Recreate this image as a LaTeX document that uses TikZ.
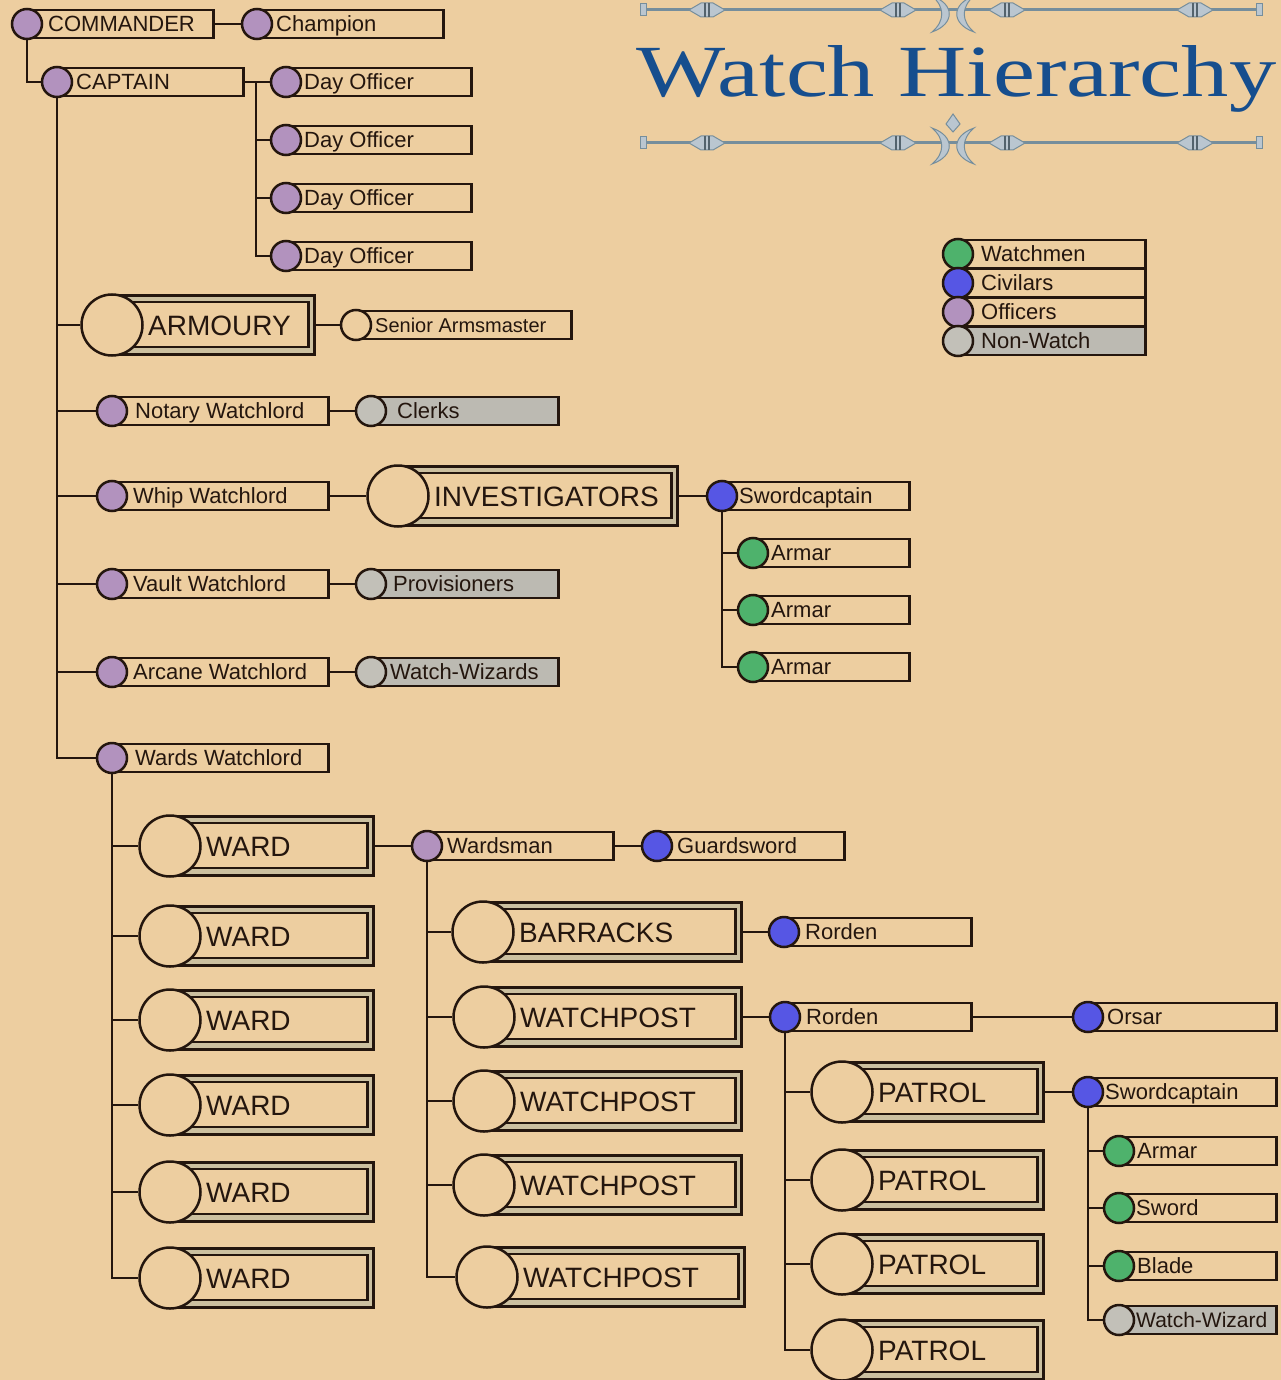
\documentclass[tikz,border=0pt]{standalone}
\usepackage{fontspec}
\usepackage{graphicx}
\setmainfont{Liberation Sans}
\newfontfamily\titlefont{Liberation Serif}
\definecolor{paper}{RGB}{237,206,160}
\definecolor{ink}{RGB}{36,22,14}
\definecolor{cwatch}{RGB}{78,178,108}
\definecolor{cciv}{RGB}{86,86,228}
\definecolor{coff}{RGB}{178,146,190}
\definecolor{cnon}{RGB}{194,192,184}
\definecolor{gbox}{RGB}{188,186,178}
\definecolor{tblue}{RGB}{22,78,142}
\definecolor{orn}{RGB}{118,142,156}
\definecolor{ornf}{RGB}{186,198,208}
\definecolor{gapc}{RGB}{204,192,160}
\tikzset{
  sbox/.style={rectangle, draw=ink, line width=2.5pt, minimum height=28pt, inner sep=0pt},
  scirc/.style={circle, draw=ink, line width=2.5pt, minimum size=30pt, inner sep=0pt},
  stext/.style={anchor=base west, inner sep=0pt, font=\fontsize{22}{22}\selectfont, text=ink},
  bouter/.style={rectangle, draw=ink, line width=2.5pt, minimum height=59pt, inner sep=0pt, fill=gapc},
  binner/.style={rectangle, draw=ink, line width=2.5pt, minimum height=45pt, inner sep=0pt, fill=paper},
  bcirc/.style={circle, draw=ink, line width=2.5pt, minimum size=61pt, inner sep=0pt, fill=paper},
  btext/.style={anchor=base west, inner sep=0pt, font=\fontsize{28}{28}\selectfont, text=ink},
  link/.style={draw=ink, line width=2.4pt, line join=miter},
  ornline/.style={draw=orn, line width=3pt},
  ornpiece/.style={fill=ornf, draw=orn, line width=1pt},
}
% small entry: [text offset] name, x, y, right, circle fill, box fill, text
\newcommand\sentry[8][19]{%
  \pgfmathsetmacro\boxw{#5-#3}%
  \node[sbox, fill=#7, minimum width=\boxw pt, anchor=west] (#2) at (#3,#4) {};
  \node[scirc, fill=#6] (#2c) at (#3,#4) {};
  \node[stext] (#2t) at (#3+#1,#4+7.8) {#8};
}
% big entry: name, x, y, right, text
\newcommand\bentry[5]{%
  \pgfmathsetmacro\boxw{#4-#2}%
  \pgfmathsetmacro\boxiw{#4-#2-6}%
  \node[bouter, minimum width=\boxw pt, anchor=west] (#1o) at (#2,#3) {};
  \node[binner, minimum width=\boxiw pt, anchor=west] (#1) at (#2,#3-0.5) {};
  \node[bcirc] (#1c) at (#2,#3) {};
  \node[btext] (#1t) at (#2+36,#3+10) {#5};
}
\newcommand\ornament[2]{%
  \path[ornpiece] (#1-18,#2) -- (#1-6,#2-7) -- (#1+6,#2-7) -- (#1+18,#2) -- (#1+6,#2+7) -- (#1-6,#2+7) -- cycle;
  \draw[orn!70!black, line width=1.6pt] (#1-2,#2-7) -- (#1-2,#2+7) (#1+2,#2-7) -- (#1+2,#2+7);
}
\newcommand\crescents[2]{%
  \path[ornpiece] (#1-21,#2-18) .. controls (#1+2,#2-10) and (#1+2,#2+10) .. (#1-21,#2+18)
     .. controls (#1-8,#2+7) and (#1-8,#2-7) .. (#1-21,#2-18) -- cycle;
  \path[ornpiece] (#1+21,#2-18) .. controls (#1-2,#2-10) and (#1-2,#2+10) .. (#1+21,#2+18)
     .. controls (#1+8,#2+7) and (#1+8,#2-7) .. (#1+21,#2-18) -- cycle;
}
\newcommand\ornrule[1]{%
  \draw[ornline] (643,#1) -- (1259,#1);
  \path[ornpiece] (640,#1-6) rectangle (646,#1+6);
  \path[ornpiece] (1256,#1-6) rectangle (1262,#1+6);
  \ornament{707}{#1}\ornament{898}{#1}\ornament{1007}{#1}\ornament{1195}{#1}
}
\begin{document}
\begin{tikzpicture}[x=1pt,y=-1pt]
\useasboundingbox (0,0) rectangle (1281,1380);
\fill[paper] (0,0) rectangle (1281,1380);

% title
\ornrule{10}
\crescents{953}{14}
\ornrule{143}
\path[ornpiece] (953,114) -- (960,124) -- (953,132) -- (946,124) -- cycle;
\crescents{953}{146}
\node[anchor=base west, inner sep=0pt, text=tblue] (title) at (636,97)
  {\resizebox{640pt}{51pt}{\titlefont Watch Hierarchy}};

% legend
\sentry[23]{lgA}{958}{254}{1144}{cwatch}{paper}{Watchmen}
\sentry[23]{lgB}{958}{283}{1144}{cciv}{paper}{Civilars}
\sentry[23]{lgC}{958}{312}{1144}{coff}{paper}{Officers}
\sentry[23]{lgD}{958}{341}{1144}{cnon}{gbox}{Non-Watch}

% top of hierarchy
\sentry[21]{cmd}{27}{24}{212}{coff}{paper}{COMMANDER}
\sentry{champ}{257}{24}{442}{coff}{paper}{Champion}
\sentry{cap}{57}{82}{242}{coff}{paper}{CAPTAIN}
\sentry[18]{dA}{286}{82}{470}{coff}{paper}{Day Officer}
\sentry[18]{dB}{286}{140}{470}{coff}{paper}{Day Officer}
\sentry[18]{dC}{286}{198}{470}{coff}{paper}{Day Officer}
\sentry[18]{dD}{286}{256}{470}{coff}{paper}{Day Officer}

\bentry{arm}{112}{325}{313}{ARMOURY}
\sentry{sam}{356}{325}{570}{paper}{paper}{\fontsize{20}{20}\selectfont Senior Armsmaster}
\sentry[23]{not}{112}{411}{327}{coff}{paper}{Notary Watchlord}
\sentry[26]{clk}{371}{411}{557}{cnon}{gbox}{Clerks}
\sentry[21]{whip}{112}{496}{327}{coff}{paper}{Whip Watchlord}
\bentry{inv}{398}{496}{676}{INVESTIGATORS}
\sentry[17]{scA}{722}{496}{908}{cciv}{paper}{Swordcaptain}
\sentry[18]{arA}{753}{553}{908}{cwatch}{paper}{Armar}
\sentry[18]{arB}{753}{610}{908}{cwatch}{paper}{Armar}
\sentry[18]{arC}{753}{667}{908}{cwatch}{paper}{Armar}
\sentry[21]{vault}{112}{584}{327}{coff}{paper}{Vault Watchlord}
\sentry[22]{prov}{371}{584}{557}{cnon}{gbox}{Provisioners}
\sentry[21]{arc}{112}{672}{327}{coff}{paper}{Arcane Watchlord}
\sentry[19]{wwiz}{371}{672}{557}{cnon}{gbox}{Watch-Wizards}
\sentry[23]{wards}{112}{758}{327}{coff}{paper}{Wards Watchlord}

% wards
\bentry{wA}{170}{846}{372}{WARD}
\bentry{wB}{170}{936}{372}{WARD}
\bentry{wC}{170}{1020}{372}{WARD}
\bentry{wD}{170}{1105}{372}{WARD}
\bentry{wE}{170}{1192}{372}{WARD}
\bentry{wF}{170}{1278}{372}{WARD}
\sentry[20]{wman}{427}{846}{612}{coff}{paper}{Wardsman}
\sentry[20]{gsw}{657}{846}{843}{cciv}{paper}{Guardsword}

\bentry{bar}{483}{932}{740}{BARRACKS}
\sentry[21]{rorA}{784}{932}{970}{cciv}{paper}{Rorden}
\bentry{wpA}{484}{1017}{740}{WATCHPOST}
\bentry{wpB}{484}{1101}{740}{WATCHPOST}
\bentry{wpC}{484}{1185}{740}{WATCHPOST}
\bentry{wpD}{487}{1277}{743}{WATCHPOST}
\sentry[21]{rorB}{785}{1017}{970}{cciv}{paper}{Rorden}
\sentry[19]{ors}{1088}{1017}{1275}{cciv}{paper}{Orsar}

\bentry{pA}{842}{1092}{1042}{PATROL}
\bentry{pB}{842}{1180}{1042}{PATROL}
\bentry{pC}{842}{1264}{1042}{PATROL}
\bentry{pD}{842}{1350}{1042}{PATROL}
\sentry[17]{scB}{1088}{1092}{1275}{cciv}{paper}{Swordcaptain}
\sentry[18]{arD}{1119}{1151}{1275}{cwatch}{paper}{Armar}
\sentry[17]{swd}{1119}{1208}{1275}{cwatch}{paper}{Sword}
\sentry[18]{bld}{1119}{1266}{1275}{cwatch}{paper}{Blade}
\sentry[17]{wz}{1119}{1320}{1275}{cnon}{gbox}{\fontsize{21}{21}\selectfont Watch-Wizard}

% connectors
\draw[link] (cmd.east) -- (champc.west);
\draw[link] (cmdc.south) |- (capc.west);
\coordinate (dj) at (256,82);
\draw[link] (cap.east) -- (dAc.west);
\draw[link] (dj) |- (dDc.west);
\draw[link] (dj |- dBc.west) -- (dBc.west);
\draw[link] (dj |- dCc.west) -- (dCc.west);

\draw[link] (capc.south) |- (wardsc.west);
\foreach \n in {arm,not,whip,vault,arc}
  \draw[link] (capc.south |- \n c.west) -- (\n c.west);
\draw[link] (armo.east) -- (samc.west);
\draw[link] (not.east) -- (clkc.west);
\draw[link] (whip.east) -- (invc.west);
\draw[link] (invo.east) -- (scAc.west);
\draw[link] (scAc.south) |- (arCc.west);
\foreach \n in {arA,arB}
  \draw[link] (scAc.south |- \n c.west) -- (\n c.west);
\draw[link] (vault.east) -- (provc.west);
\draw[link] (arc.east) -- (wwizc.west);

\draw[link] (wardsc.south) |- (wFc.west);
\foreach \n in {wA,wB,wC,wD,wE}
  \draw[link] (wardsc.south |- \n c.west) -- (\n c.west);
\draw[link] (wAo.east) -- (wmanc.west);
\draw[link] (wman.east) -- (gswc.west);

\draw[link] (wmanc.south) |- (wpDc.west);
\foreach \n in {bar,wpA,wpB,wpC}
  \draw[link] (wmanc.south |- \n c.west) -- (\n c.west);
\draw[link] (baro.east) -- (rorAc.west);
\draw[link] (wpAo.east) -- (rorBc.west);
\draw[link] (rorB.east) -- (orsc.west);

\draw[link] (rorBc.south) |- (pDc.west);
\foreach \n in {pA,pB,pC}
  \draw[link] (rorBc.south |- \n c.west) -- (\n c.west);
\draw[link] (pAo.east) -- (scBc.west);
\draw[link] (scBc.south) |- (wzc.west);
\foreach \n in {arD,swd,bld}
  \draw[link] (scBc.south |- \n c.west) -- (\n c.west);
\end{tikzpicture}
\end{document}
